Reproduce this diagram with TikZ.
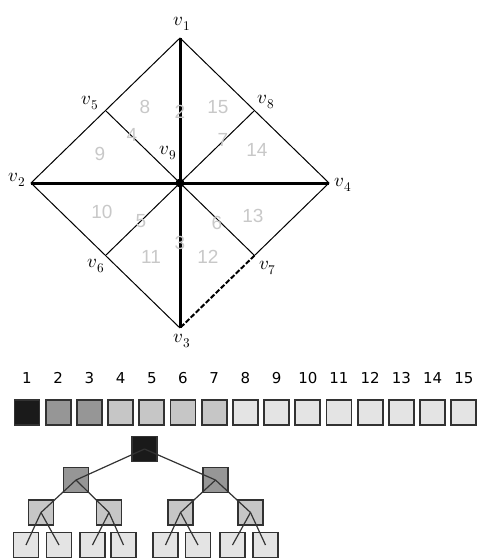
\documentclass[tikz,border=0pt]{standalone}
\usepackage{fontspec}
\usepackage{unicode-math}
\newfontfamily\numfont{DejaVu Sans}
\newfontfamily\regionfont{Liberation Sans}

\definecolor{lvA}{RGB}{26,26,26}
\definecolor{lvB}{RGB}{150,150,150}
\definecolor{lvC}{RGB}{198,198,198}
\definecolor{lvD}{RGB}{228,228,228}
\definecolor{boxline}{RGB}{50,50,50}
\definecolor{faint}{RGB}{200,200,200}

\tikzset{
  vlabel/.style={inner sep=0pt, font=\fontsize{19}{21}\selectfont},
  region/.style={inner sep=0pt, text=faint, font=\regionfont\fontsize{19}{21}\selectfont},
  cell/.style={draw=boxline, line width=1.8pt, minimum size=25pt, inner sep=0pt},
  cellnum/.style={inner sep=0pt, font=\numfont\fontsize{15}{17}\selectfont},
  branch/.style={line width=1.2pt, black!80}
}

\begin{document}
\begin{tikzpicture}[x=1pt,y=-1pt]
\useasboundingbox (0,0) rectangle (480,558);

% Diamond corners and edge midpoints
\coordinate (v1) at (180,38);
\coordinate (v2) at (31,183);
\coordinate (v3) at (180,328);
\coordinate (v4) at (329,183);
\coordinate (v5) at (105.5,110.5);
\coordinate (v8) at (254.5,110.5);
\coordinate (v6) at (105.5,255.5);
\coordinate (v7) at (254.5,255.5);
\coordinate (v9) at (180,183);

% Outline of the square
\draw[line width=1pt] (v1) -- (v2) -- (v3);
\draw[line width=1pt] (v1) -- (v4) -- (v7);
\draw[line width=2pt, dash pattern=on 5pt off 2pt] (v7) -- (v3);

% Inner thin edges
\foreach \m in {v5,v6,v7,v8} {
    \draw[line width=1pt] (v9) -- (\m);
}

% Main diagonals
\draw[line width=3pt] (v1) -- (v3);
\draw[line width=3pt] (v2) -- (v4);
\fill (v9) circle (4.5pt);

% Vertex labels
\node[vlabel] (lv1) at (182,24) {$v_1$};
\node[vlabel] (lv2) at (17,180) {$v_2$};
\node[vlabel] (lv3) at (182,341) {$v_3$};
\node[vlabel] (lv4) at (343,185) {$v_4$};
\node[vlabel] (lv5) at (90,103) {$v_5$};
\node[vlabel] (lv6) at (96,266) {$v_6$};
\node[vlabel] (lv7) at (268,268) {$v_7$};
\node[vlabel] (lv8) at (266,102) {$v_8$};
\node[vlabel] (lv9) at (168,153) {$v_9$};

% Triangle numbers
\node[region] (r8) at (145,107) {8};
\node[region] (r15) at (218,107) {15};
\node[region] (r9) at (100,154) {9};
\node[region] (r14) at (257,150) {14};
\node[region] (r10) at (102,212) {10};
\node[region] (r13) at (253,216) {13};
\node[region] (r11) at (151,257) {11};
\node[region] (r12) at (208,257) {12};

% Edge numbers
\node[region] (e2) at (180,112) {2};
\node[region] (e4) at (132,135) {4};
\node[region] (e7) at (223,140) {7};
\node[region] (e5) at (141,221) {5};
\node[region] (e6) at (217,223) {6};
\node[region] (e3) at (180,243) {3};

% Row of cells
\foreach \i/\c in {1/lvA,2/lvB,3/lvB,4/lvC,5/lvC,6/lvC,7/lvC,8/lvD,9/lvD,10/lvD,11/lvD,12/lvD,13/lvD,14/lvD,15/lvD} {
    \node[cell, fill=\c] (b\i) at ({27+(\i-1)*31.2},412.5) {};
    \node[cellnum] (n\i) at ({27+(\i-1)*31.2},378) {\i};
}

% Tree of cells
\node[cell, fill=lvA] (t1) at (144.5,449) {};
\node[cell, fill=lvB] (t2) at (76,480) {};
\node[cell, fill=lvB] (t3) at (215.5,480) {};
\node[cell, fill=lvC] (t4) at (41,512.5) {};
\node[cell, fill=lvC] (t5) at (109,512.5) {};
\node[cell, fill=lvC] (t6) at (180.5,512.5) {};
\node[cell, fill=lvC] (t7) at (250.5,512.5) {};
\foreach \k/\x in {8/26,9/59,10/92.5,11/123.5,12/165.5,13/198,14/232.5,15/265.5} {
    \node[cell, fill=lvD] (t\k) at (\x,545) {};
}

% Tree branches
\foreach \p/\a/\b in {1/2/3,2/4/5,3/6/7,4/8/9,5/10/11,6/12/13,7/14/15} {
    \draw[branch] (t\p.center) -- (t\a.center);
    \draw[branch] (t\p.center) -- (t\b.center);
}
\end{tikzpicture}
\end{document}
